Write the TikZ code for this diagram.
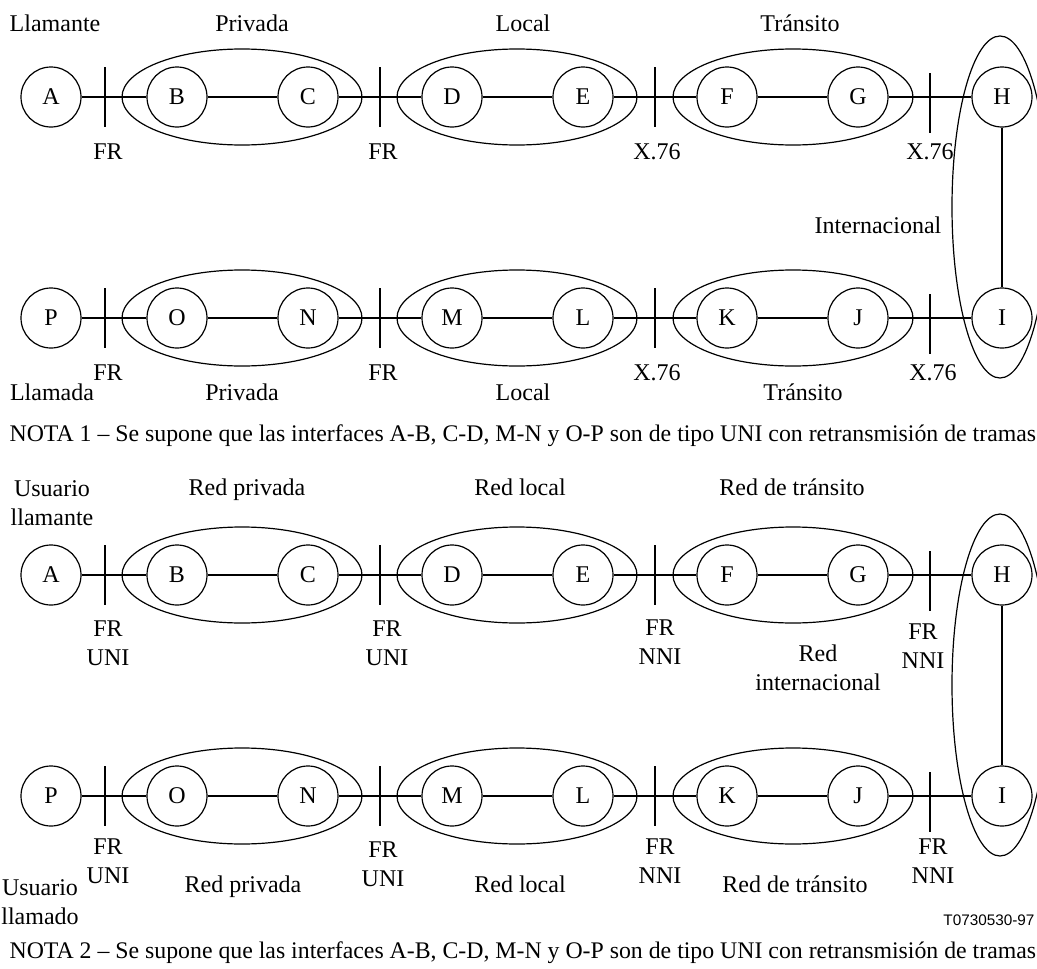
\documentclass[tikz,border=0pt]{standalone}
\usepackage{fontspec}
\setmainfont{Liberation Serif}
\newfontfamily\sansf{Liberation Sans}
\usetikzlibrary{shapes.geometric}
\begin{document}
\begin{tikzpicture}[x=1pt,y=-1pt,line width=1.2pt,
  stn/.style={circle,draw,minimum size=60pt,inner sep=0pt,font=\fontsize{24}{28}\selectfont},
  net/.style={ellipse,draw,minimum width=240pt,minimum height=96pt,inner sep=0pt},
  inet/.style={ellipse,draw,minimum width=96pt,minimum height=342pt,inner sep=0pt},
  lbl/.style={font=\fontsize{24}{28}\selectfont,inner sep=0pt,align=center,text height=16pt,text depth=5pt},
  lbl2/.style={font=\fontsize{24}{29}\selectfont,inner sep=0pt,align=center},
  nota/.style={font=\fontsize{23.8}{28}\selectfont,inner sep=0pt,anchor=west},
  code/.style={font=\sansf\fontsize{15.3}{18}\selectfont,inner sep=0pt}]
\useasboundingbox (0,0) rectangle (1037,969);
\foreach \p/\dy in {u/0,d/478}{
 \begin{scope}[yshift=-\dy pt]
  % row 1
  \node[stn] (\p A) at (51,97) {A};
  \node[stn] (\p B) at (177,97) {B};
  \node[stn] (\p C) at (308,97) {C};
  \node[stn] (\p D) at (452,97) {D};
  \node[stn] (\p E) at (583,97) {E};
  \node[stn] (\p F) at (727,97) {F};
  \node[stn] (\p G) at (858,97) {G};
  \node[stn] (\p H) at (1002,97) {H};
  % row 2
  \node[stn] (\p P) at (51,318) {P};
  \node[stn] (\p O) at (177,318) {O};
  \node[stn] (\p N) at (308,318) {N};
  \node[stn] (\p M) at (452,318) {M};
  \node[stn] (\p L) at (583,318) {L};
  \node[stn] (\p K) at (727,318) {K};
  \node[stn] (\p J) at (858,318) {J};
  \node[stn] (\p I) at (1002,318) {I};
  % networks
  \node[net] (\p n1) at (242,97) {};
  \node[net] (\p n2) at (517,97) {};
  \node[net] (\p n3) at (793,97) {};
  \node[net] (\p n4) at (242,318) {};
  \node[net] (\p n5) at (517,318) {};
  \node[net] (\p n6) at (793,318) {};
  \node[inet] (\p n7) at (1000,207) {};
  % interface ticks
  \coordinate (\p a1) at (105,67);  \coordinate (\p b1) at (105,127);
  \coordinate (\p a2) at (380,67);  \coordinate (\p b2) at (380,127);
  \coordinate (\p a3) at (655,67);  \coordinate (\p b3) at (655,127);
  \coordinate (\p a4) at (930,73);  \coordinate (\p b4) at (930,133);
  \coordinate (\p a5) at (105,288); \coordinate (\p b5) at (105,348);
  \coordinate (\p a6) at (380,288); \coordinate (\p b6) at (380,348);
  \coordinate (\p a7) at (655,288); \coordinate (\p b7) at (655,348);
  \coordinate (\p a8) at (930,294); \coordinate (\p b8) at (930,354);
  \foreach \k in {1,...,8}{\draw (\p a\k) -- (\p b\k);}
  % links
  \draw (\p A) -- (\p B) -- (\p C) -- (\p D) -- (\p E) -- (\p F) -- (\p G) -- (\p H) -- (\p I);
  \draw (\p P) -- (\p O) -- (\p N) -- (\p M) -- (\p L) -- (\p K) -- (\p J) -- (\p I);
 \end{scope}
}
% labels, diagram 1
\node[lbl] (t1) at (55,26) {Llamante};
\node[lbl] (t2) at (252,26) {Privada};
\node[lbl] (t3) at (523,26) {Local};
\node[lbl] (t4) at (800,26) {Tránsito};
\node[lbl] (t5) at (108,154) {FR};
\node[lbl] (t6) at (383,154) {FR};
\node[lbl] (t7) at (657,154) {X.76};
\node[lbl] (t8) at (930,154) {X.76};
\node[lbl] (t9) at (878,228) {Internacional};
\node[lbl] (t10) at (108,375) {FR};
\node[lbl] (t11) at (52,395) {Llamada};
\node[lbl] (t12) at (242,395) {Privada};
\node[lbl] (t13) at (383,375) {FR};
\node[lbl] (t14) at (523,395) {Local};
\node[lbl] (t15) at (657,375) {X.76};
\node[lbl] (t16) at (803,395) {Tránsito};
\node[lbl] (t17) at (933,375) {X.76};
\node[nota] (nota1) at (9,436) {NOTA 1 – Se supone que las interfaces A-B, C-D, M-N y O-P son de tipo UNI con retransmisión de tramas};
% labels, diagram 2
\node[lbl2] (s1) at (52,503) {Usuario\\llamante};
\node[lbl] (s2) at (247,490) {Red privada};
\node[lbl] (s3) at (520,490) {Red local};
\node[lbl] (s4) at (792,490) {Red de tránsito};
\node[lbl2] (s5) at (108,643) {FR\\UNI};
\node[lbl2] (s6) at (387,643) {FR\\UNI};
\node[lbl2] (s7) at (660,642) {FR\\NNI};
\node[lbl2] (s8) at (923,646) {FR\\NNI};
\node[lbl2] (s9) at (818,668) {Red\\internacional};
\node[lbl2] (s10) at (108,861) {FR\\UNI};
\node[lbl2] (s11) at (40,902) {Usuario\\llamado};
\node[lbl] (s12) at (243,887) {Red privada};
\node[lbl2] (s13) at (383,864) {FR\\UNI};
\node[lbl] (s14) at (520,887) {Red local};
\node[lbl2] (s15) at (660,861) {FR\\NNI};
\node[lbl] (s16) at (795,887) {Red de tránsito};
\node[lbl2] (s17) at (933,861) {FR\\NNI};
\node[code] (code) at (989,920) {T0730530-97};
\node[nota] (nota2) at (9,953) {NOTA 2 – Se supone que las interfaces A-B, C-D, M-N y O-P son de tipo UNI con retransmisión de tramas};
\end{tikzpicture}
\end{document}
